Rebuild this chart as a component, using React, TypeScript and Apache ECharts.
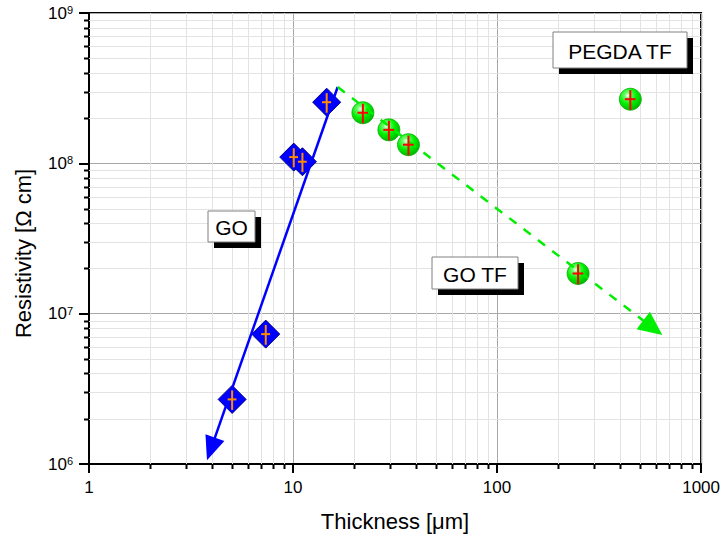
import React, { useEffect, useRef } from "react";
import * as echarts from "echarts";

// ---- data ----
const goThickness = [5.03, 7.35, 10.08, 11.12, 14.62];
const goResistivity = [2.69e6, 7.31e6, 1.1e8, 1.025e8, 2.55e8];
const goThicknessErr = [0.25, 0.37, 0.5, 0.55, 0.75];
const goResistivityErr = [0.4e6, 1.1e6, 1.6e7, 1.5e7, 3.8e7];

const tfThickness = [22.0, 29.5, 36.8, 249.5];
const tfResistivity = [2.17e8, 1.67e8, 1.33e8, 1.85e7];
const tfThicknessErr = [1.3, 1.8, 2.2, 15];
const tfResistivityErr = [3.2e7, 2.5e7, 2.0e7, 2.8e6];

const pegdaThickness = [450];
const pegdaResistivity = [2.67e8];
const pegdaThicknessErr = [27];
const pegdaResistivityErr = [4.0e7];

// trend arrows: [thickness, resistivity]
const goTrendStart = [16.55, 3.22e8];
const goTrendEnd = [3.96, 1.26e6];
const tfTrendStart = [16.55, 3.22e8];
const tfTrendEnd = [579.6, 8.06e6];

const xMinorTicks = [2, 3, 4, 5, 6, 7, 8, 9, 20, 30, 40, 50, 60, 70, 80, 90, 200, 300, 400, 500, 600, 700, 800, 900];
const yMinorTicks = [
  2e6, 3e6, 4e6, 5e6, 6e6, 7e6, 8e6, 9e6,
  2e7, 3e7, 4e7, 5e7, 6e7, 7e7, 8e7, 9e7,
  2e8, 3e8, 4e8, 5e8, 6e8, 7e8, 8e8, 9e8,
];
const xRange = [1, 1000];
const yRange = [1e6, 1e9];

const annotationLabels = ["GO", "GO TF", "PEGDA TF"];

// ---- layout ----
const FONT = '"Liberation Sans", Arial, sans-serif';
const annotationBoxes = [
  { x: 208, y: 211, w: 47, h: 31 },
  { x: 432, y: 257, w: 86, h: 32 },
  { x: 553, y: 32, w: 134, h: 36 },
];

function errorBarSeries(name: string, xs: number[], ys: number[], xe: number[], ye: number[], color: string) {
  return {
    name,
    type: "custom",
    coordinateSystem: "cartesian2d",
    z: 6,
    silent: true,
    clip: false,
    encode: { x: 0, y: 1 },
    data: xs.map((x, i) => [x, ys[i], xe[i], ye[i]]),
    renderItem: (params: any, api: any) => {
      const x = api.value(0);
      const y = api.value(1);
      const ex = api.value(2);
      const ey = api.value(3);
      const top = api.coord([x, y + ey]);
      const bot = api.coord([x, y - ey]);
      const left = api.coord([x - ex, y]);
      const right = api.coord([x + ex, y]);
      const style = { stroke: color, lineWidth: 2 };
      return {
        type: "group",
        children: [
          { type: "line", shape: { x1: top[0], y1: top[1], x2: bot[0], y2: bot[1] }, style },
          { type: "line", shape: { x1: left[0], y1: left[1], x2: right[0], y2: right[1] }, style },
        ],
      };
    },
  };
}

export default function App() {
  const ref = useRef<HTMLDivElement>(null);

  useEffect(() => {
    if (!ref.current) return;
    const chart = echarts.init(ref.current, null, { renderer: "svg" });

    const greenBall = {
      type: "radial",
      x: 0.38,
      y: 0.33,
      r: 0.7,
      colorStops: [
        { offset: 0, color: "#f4fff4" },
        { offset: 0.18, color: "#70ff70" },
        { offset: 0.55, color: "#00f000" },
        { offset: 1, color: "#00b400" },
      ],
    };

    const graphic: any[] = [];
    annotationBoxes.forEach((b, i) => {
      graphic.push({
        type: "rect",
        shape: { x: b.x + 6, y: b.y + 6, width: b.w, height: b.h },
        style: { fill: "#000" },
        z: 100,
      });
      graphic.push({
        type: "rect",
        shape: { x: b.x, y: b.y, width: b.w, height: b.h },
        style: { fill: "#fff", stroke: "#808080", lineWidth: 1 },
        z: 101,
      });
      graphic.push({
        type: "text",
        x: b.x + b.w / 2,
        y: b.y + b.h / 2 + 1,
        z: 102,
        style: {
          text: annotationLabels[i],
          fontSize: 21,
          fontFamily: FONT,
          fill: "#000",
          align: "center",
          verticalAlign: "middle",
        },
      });
    });

    const option: any = {
      animation: false,
      backgroundColor: "#fff",
      grid: {
        left: 89,
        right: 21,
        top: 13,
        bottom: 76,
        show: true,
        borderColor: "#000",
        borderWidth: 2,
        backgroundColor: "transparent",
      },
      xAxis: {
        type: "log",
        logBase: 10,
        min: xRange[0],
        max: xRange[1],
        name: "Thickness [μm]",
        nameLocation: "middle",
        nameGap: 46,
        nameTextStyle: { fontSize: 22, fontFamily: FONT, color: "#000" },
        axisLine: { show: true, lineStyle: { color: "#000", width: 2 } },
        axisTick: { show: true, inside: false, length: 9, lineStyle: { color: "#000", width: 2 } },
        axisLabel: {
          fontSize: 17,
          fontFamily: FONT,
          color: "#000",
          margin: 15,
          formatter: (v: number) => String(Math.round(v)),
        },
        splitLine: { show: true, lineStyle: { color: "#a8a8a8", width: 1 } },
      },
      yAxis: {
        type: "log",
        logBase: 10,
        min: yRange[0],
        max: yRange[1],
        name: "Resistivity [Ω cm]",
        nameLocation: "middle",
        nameGap: 55,
        nameTextStyle: { fontSize: 22, fontFamily: FONT, color: "#000", padding: [0, 30, 0, 0] },
        axisLine: { show: true, lineStyle: { color: "#000", width: 2 } },
        axisTick: { show: true, inside: false, length: 10, lineStyle: { color: "#000", width: 2 } },
        axisLabel: {
          fontSize: 17,
          fontFamily: FONT,
          color: "#000",
          margin: 16,
          formatter: (v: number) => "10{s|" + Math.round(Math.log10(v)) + "}",
          rich: {
            s: { fontSize: 11, fontFamily: FONT, color: "#000", verticalAlign: "top" },
          },
        },
        splitLine: { show: true, lineStyle: { color: "#a8a8a8", width: 1 } },
      },
      graphic,
      series: [
        {
          name: "x minor",
          type: "custom",
          coordinateSystem: "cartesian2d",
          z: 1,
          silent: true,
          clip: false,
          data: xMinorTicks.map((v) => [v, yRange[0]]),
          renderItem: (params: any, api: any) => {
            const cs = params.coordSys;
            const p = api.coord([api.value(0), api.value(1)]);
            const x = Math.round(p[0]) + 0.5;
            const bottom = cs.y + cs.height;
            return {
              type: "group",
              children: [
                { type: "line", shape: { x1: x, y1: cs.y, x2: x, y2: bottom }, style: { stroke: "#e3e3e3", lineWidth: 1 } },
                { type: "line", shape: { x1: x, y1: bottom, x2: x, y2: bottom + 5 }, style: { stroke: "#000", lineWidth: 2 } },
              ],
            };
          },
        },
        {
          name: "y minor",
          type: "custom",
          coordinateSystem: "cartesian2d",
          z: 1,
          silent: true,
          clip: false,
          data: yMinorTicks.map((v) => [xRange[0], v]),
          renderItem: (params: any, api: any) => {
            const cs = params.coordSys;
            const p = api.coord([api.value(0), api.value(1)]);
            const y = Math.round(p[1]) + 0.5;
            const left = cs.x;
            return {
              type: "group",
              children: [
                { type: "line", shape: { x1: left, y1: y, x2: left + cs.width, y2: y }, style: { stroke: "#e3e3e3", lineWidth: 1 } },
                { type: "line", shape: { x1: left - 5, y1: y, x2: left, y2: y }, style: { stroke: "#000", lineWidth: 2 } },
              ],
            };
          },
        },
        {
          name: "GO",
          type: "scatter",
          z: 4,
          symbol: "diamond",
          symbolSize: 28,
          itemStyle: { color: "#0000ff", borderColor: "#00008b", borderWidth: 1, opacity: 1 },
          data: goThickness.map((x, i) => [x, goResistivity[i]]),
          markLine: {
            silent: true,
            animation: false,
            symbol: ["none", "triangle"],
            symbolSize: [20, 24],
            label: { show: false },
            lineStyle: { color: "#0000ff", width: 2.5, type: "solid" },
            data: [[{ coord: goTrendStart }, { coord: goTrendEnd }]],
          },
        },
        {
          name: "GO TF",
          type: "scatter",
          z: 4,
          symbol: "circle",
          symbolSize: 22,
          itemStyle: { color: greenBall, borderColor: "#00b000", borderWidth: 0.8, opacity: 1 },
          data: tfThickness.map((x, i) => [x, tfResistivity[i]]),
          markLine: {
            silent: true,
            animation: false,
            symbol: ["none", "triangle"],
            symbolSize: [22, 24],
            label: { show: false },
            lineStyle: { color: "#00ee00", width: 2.5, type: [9, 9] },
            data: [[{ coord: tfTrendStart }, { coord: tfTrendEnd }]],
          },
        },
        {
          name: "PEGDA TF",
          type: "scatter",
          z: 4,
          symbol: "circle",
          symbolSize: 22,
          itemStyle: { color: greenBall, borderColor: "#00b000", borderWidth: 0.8, opacity: 1 },
          data: pegdaThickness.map((x, i) => [x, pegdaResistivity[i]]),
        },
        errorBarSeries("GO err", goThickness, goResistivity, goThicknessErr, goResistivityErr, "#ff8c00"),
        errorBarSeries("GO TF err", tfThickness, tfResistivity, tfThicknessErr, tfResistivityErr, "#ff0000"),
        errorBarSeries("PEGDA TF err", pegdaThickness, pegdaResistivity, pegdaThicknessErr, pegdaResistivityErr, "#ff0000"),
      ],
    };

    chart.setOption(option);
    return () => chart.dispose();
  }, []);

  return <div ref={ref} style={{ width: 723, height: 540, position: "absolute", left: 0, top: 0 }} />;
}
